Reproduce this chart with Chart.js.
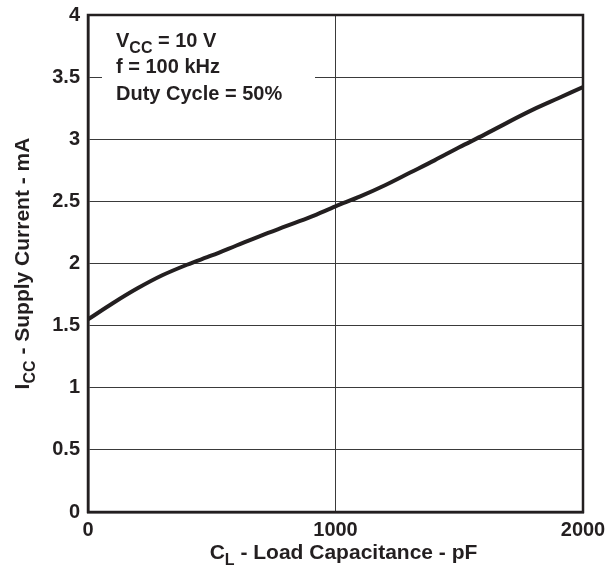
<!DOCTYPE html>
<html>
<head>
<meta charset="utf-8">
<script src="https://cdn.jsdelivr.net/npm/chart.js@4"></script>
<style>
  html, body { margin: 0; padding: 0; background: #ffffff; }
  #wrap { width: 614px; height: 570px; }
</style>
</head>
<body>
<div id="wrap"><canvas id="c" width="614" height="570"></canvas></div>
<script>
// ---- data ----
const capacitancePF = [0, 100, 200, 300, 400, 500, 600, 700, 800, 900, 1000,
                       1100, 1200, 1300, 1400, 1500, 1600, 1700, 1800, 1900, 2000];
const supplyCurrentMA = [1.55, 1.68, 1.80, 1.905, 1.99, 2.065, 2.145, 2.225, 2.30, 2.375, 2.46,
                         2.54, 2.63, 2.73, 2.83, 2.935, 3.035, 3.14, 3.24, 3.33, 3.42];
const xTickValues = [0, 1000, 2000];
const xTickLabels = ['0', '1000', '2000'];
const yTickValues = [0, 0.5, 1, 1.5, 2, 2.5, 3, 3.5, 4];
const yTickLabels = ['0', '0.5', '1', '1.5', '2', '2.5', '3', '3.5', '4'];
const annotationLines = [
  [{ t: 'V' }, { t: 'CC', sub: true }, { t: ' = 10 V' }],
  [{ t: 'f = 100 kHz' }],
  [{ t: 'Duty Cycle = 50%' }]
];
const xTitle = [{ t: 'C' }, { t: 'L', sub: true }, { t: ' - Load Capacitance - pF' }];
const yTitle = [{ t: 'I' }, { t: 'CC', sub: true }, { t: ' - Supply Current - mA' }];

const FONT = '"Liberation Sans", Arial, Helvetica, sans-serif';

function drawParts(ctx, parts, x, y, size, align) {
  const mainFont = 'bold ' + size + 'px ' + FONT;
  const subFont = 'bold ' + Math.round(size * 0.78) + 'px ' + FONT;
  let total = 0;
  parts.forEach(p => { ctx.font = p.sub ? subFont : mainFont; total += ctx.measureText(p.t).width; });
  let cx = align === 'center' ? x - total / 2 : x;
  ctx.textAlign = 'left';
  ctx.textBaseline = 'alphabetic';
  parts.forEach(p => {
    ctx.font = p.sub ? subFont : mainFont;
    ctx.fillText(p.t, cx, p.sub ? y + size * 0.3 : y);
    cx += ctx.measureText(p.t).width;
  });
}

const decorPlugin = {
  id: 'decor',
  beforeDatasetsDraw(chart) {
    const ctx = chart.ctx;
    const a = chart.chartArea;
    ctx.save();
    // white box behind the annotation (interrupts the grid line)
    ctx.fillStyle = '#ffffff';
    ctx.fillRect(a.left + 14, a.top + 8, 213, 88);
    ctx.fillStyle = '#231f20';
    annotationLines.forEach((line, i) => {
      drawParts(ctx, line, a.left + 28, a.top + 32 + i * 26.3, 20, 'left');
    });
    ctx.restore();
  },
  afterDraw(chart) {
    const ctx = chart.ctx;
    const a = chart.chartArea;
    ctx.save();
    ctx.strokeStyle = '#231f20';
    ctx.lineWidth = 2.5;
    ctx.strokeRect(a.left, a.top, a.right - a.left, a.bottom - a.top);
    ctx.fillStyle = '#231f20';
    // x axis title
    drawParts(ctx, xTitle, (a.left + a.right) / 2 + 8, 559, 21, 'center');
    // y axis title (rotated)
    ctx.translate(29, (a.top + a.bottom) / 2);
    ctx.rotate(-Math.PI / 2);
    drawParts(ctx, yTitle, 0, 0, 21, 'center');
    ctx.restore();
  }
};

const points = capacitancePF.map((c, i) => ({ x: c, y: supplyCurrentMA[i] }));

new Chart(document.getElementById('c'), {
  type: 'line',
  data: {
    datasets: [{
      data: points,
      borderColor: '#231f20',
      borderWidth: 4,
      pointRadius: 0,
      fill: false,
      cubicInterpolationMode: 'monotone'
    }]
  },
  options: {
    responsive: false,
    animation: false,
    devicePixelRatio: 1,
    layout: { padding: { top: 15, right: 31, left: 0, bottom: 0 } },
    plugins: { legend: { display: false }, tooltip: { enabled: false } },
    scales: {
      x: {
        type: 'linear',
        min: 0, max: 2000,
        afterBuildTicks(scale) { scale.ticks = xTickValues.map(v => ({ value: v })); },
        afterFit(scale) { scale.height = 58; scale.paddingLeft = 0; scale.paddingRight = 0; },
        ticks: {
          color: '#231f20',
          font: { family: FONT, size: 20, weight: 'bold' },
          padding: 6,
          maxRotation: 0,
          callback(value) { const i = xTickValues.indexOf(value); return i >= 0 ? xTickLabels[i] : ''; }
        },
        grid: { color: '#3a3a3a', lineWidth: 1, drawTicks: false },
        border: { display: true, color: '#231f20', width: 2.5 }
      },
      y: {
        min: 0, max: 4,
        afterBuildTicks(scale) { scale.ticks = yTickValues.map(v => ({ value: v })); },
        afterFit(scale) { scale.width = 88; scale.paddingTop = 0; scale.paddingBottom = 0; },
        ticks: {
          color: '#231f20',
          font: { family: FONT, size: 20, weight: 'bold' },
          padding: 8,
          callback(value) { const i = yTickValues.indexOf(value); return i >= 0 ? yTickLabels[i] : ''; }
        },
        grid: { color: '#3a3a3a', lineWidth: 1, drawTicks: false },
        border: { display: true, color: '#231f20', width: 2.5 }
      }
    }
  },
  plugins: [decorPlugin]
});
</script>
</body>
</html>
